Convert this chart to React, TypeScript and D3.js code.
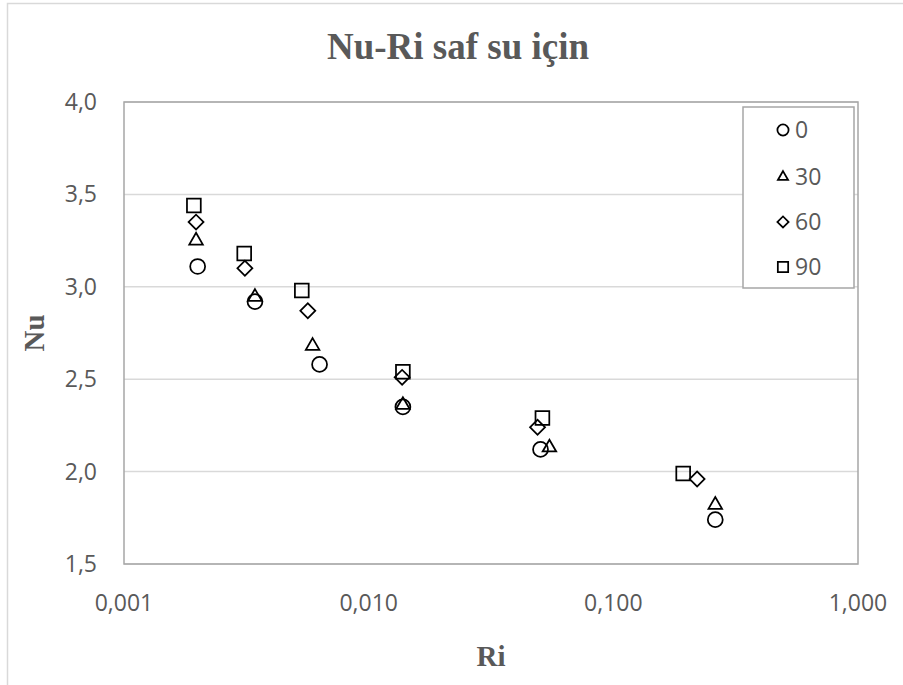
import React from "react";
import * as d3 from "d3";

// Richardson number values and Nusselt numbers for each inclination angle
const angleLabels = ["0", "30", "60", "90"];
const ri0 = [0.002, 0.00343, 0.0063, 0.0138, 0.0504, 0.261];
const nu0 = [3.11, 2.92, 2.58, 2.35, 2.12, 1.74];
const ri30 = [0.00197, 0.00343, 0.0059, 0.0138, 0.0548, 0.261];
const nu30 = [3.25, 2.945, 2.68, 2.36, 2.13, 1.82];
const ri60 = [0.00197, 0.00312, 0.00564, 0.0137, 0.049, 0.22];
const nu60 = [3.35, 3.1, 2.87, 2.51, 2.24, 1.96];
const ri90 = [0.00193, 0.0031, 0.00533, 0.0138, 0.0513, 0.193];
const nu90 = [3.44, 3.18, 2.98, 2.54, 2.29, 1.99];

const xTicks = [0.001, 0.01, 0.1, 1];
const yTicks = [1.5, 2.0, 2.5, 3.0, 3.5, 4.0];

const W = 903;
const H = 685;
const plot = { left: 124, right: 858, top: 102, bottom: 564 };

const x = d3.scaleLog().domain([0.001, 1]).range([plot.left, plot.right]);
const y = d3.scaleLinear().domain([1.5, 4]).range([plot.bottom, plot.top]);

const fmtX = (v: number) => v.toFixed(3).replace(".", ",");
const fmtY = (v: number) => v.toFixed(1).replace(".", ",");

type Shape = "circle" | "triangle" | "diamond" | "square";

const seriesList: { name: string; ri: number[]; nu: number[]; shape: Shape }[] = [
  { name: angleLabels[0], ri: ri0, nu: nu0, shape: "circle" },
  { name: angleLabels[1], ri: ri30, nu: nu30, shape: "triangle" },
  { name: angleLabels[2], ri: ri60, nu: nu60, shape: "diamond" },
  { name: angleLabels[3], ri: ri90, nu: nu90, shape: "square" },
];

function markerPath(shape: Shape, scale: number): string {
  const gen = d3.symbol();
  if (shape === "circle") return gen.type(d3.symbolCircle).size(175 * scale * scale)()!;
  if (shape === "triangle") return gen.type(d3.symbolTriangle).size(80 * scale * scale)()!;
  if (shape === "square") return gen.type(d3.symbolSquare).size(190 * scale * scale)()!;
  return gen.type(d3.symbolSquare).size(112 * scale * scale)()!;
}

function Marker({ shape, cx, cy, scale = 1 }: { shape: Shape; cx: number; cy: number; scale?: number }) {
  const rot = shape === "diamond" ? " rotate(45)" : "";
  return (
    <path
      d={markerPath(shape, scale)}
      transform={`translate(${cx},${cy})${rot}`}
      fill="none"
      stroke="#000"
      strokeWidth={1.75}
    />
  );
}

const tickFont = "'Open Sans', 'Noto Sans', sans-serif";
const titleFont = "'Liberation Serif', 'Times New Roman', serif";
const textGray = "#595959";

export default function App() {
  const legend = { x: 743, y: 107, w: 111, h: 181 };
  const legendRows = [130, 177, 222, 267];
  return (
    <svg
      width={W}
      height={H}
      style={{ position: "absolute", left: 0, top: 0, background: "#fff" }}
    >
      <rect x={0} y={0} width={W} height={H} fill="#fff" />
      {/* chart frame */}
      <rect x={7.5} y={3.5} width={W + 10} height={H + 10} fill="none" stroke="#d9d9d9" strokeWidth={1.5} />

      <text
        x={458}
        y={59}
        textAnchor="middle"
        fontFamily={titleFont}
        fontWeight="bold"
        fontSize={37}
        fill={textGray}
      >
        Nu-Ri saf su için
      </text>

      {/* horizontal gridlines */}
      {yTicks.map((t) => (
        <line
          key={`g${t}`}
          x1={plot.left}
          x2={plot.right}
          y1={y(t)}
          y2={y(t)}
          stroke="#d9d9d9"
          strokeWidth={1.5}
        />
      ))}

      {/* plot border */}
      <rect
        x={plot.left}
        y={plot.top}
        width={plot.right - plot.left}
        height={plot.bottom - plot.top}
        fill="none"
        stroke="#a6a6a6"
        strokeWidth={1.5}
      />

      {/* y tick labels */}
      {yTicks.map((t) => (
        <text
          key={`y${t}`}
          x={plot.left - 27}
          y={y(t)}
          dy="0.35em"
          textAnchor="end"
          fontFamily={tickFont}
          fontSize={23}
          fill={textGray}
        >
          {fmtY(t)}
        </text>
      ))}

      {/* x tick labels */}
      {xTicks.map((t) => (
        <text
          key={`x${t}`}
          x={x(t)}
          y={611}
          textAnchor="middle"
          fontFamily={tickFont}
          fontSize={23}
          fill={textGray}
        >
          {fmtX(t)}
        </text>
      ))}

      {/* axis titles */}
      <text
        x={(plot.left + plot.right) / 2}
        y={666}
        textAnchor="middle"
        fontFamily={titleFont}
        fontWeight="bold"
        fontSize={29}
        fill={textGray}
      >
        Ri
      </text>
      <text
        transform={`translate(44,${(plot.top + plot.bottom) / 2}) rotate(-90)`}
        textAnchor="middle"
        fontFamily={titleFont}
        fontWeight="bold"
        fontSize={29}
        fill={textGray}
      >
        Nu
      </text>

      {/* data markers */}
      {seriesList.map((s) =>
        s.ri.map((r, i) => (
          <Marker key={`${s.name}-${i}`} shape={s.shape} cx={x(r)} cy={y(s.nu[i])} />
        ))
      )}

      {/* legend */}
      <rect
        x={legend.x}
        y={legend.y}
        width={legend.w}
        height={legend.h}
        fill="#fff"
        stroke="#a6a6a6"
        strokeWidth={1.5}
      />
      {seriesList.map((s, i) => (
        <g key={`l${s.name}`}>
          <Marker shape={s.shape} cx={783} cy={legendRows[i]} scale={0.75} />
          <text
            x={795}
            y={legendRows[i]}
            dy="0.35em"
            fontFamily={tickFont}
            fontSize={23}
            fill={textGray}
          >
            {s.name}
          </text>
        </g>
      ))}
    </svg>
  );
}
